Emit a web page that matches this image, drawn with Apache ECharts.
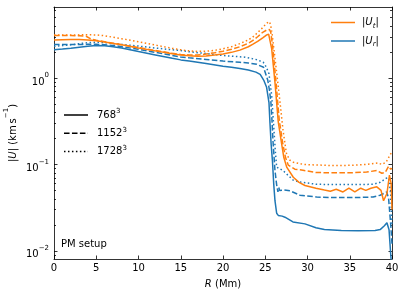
<!DOCTYPE html>
<html><head><meta charset="utf-8">
<script src="https://cdn.jsdelivr.net/npm/echarts@6/dist/echarts.min.js"></script>
<style>html,body{margin:0;padding:0;background:#fff}#c{width:407px;height:295px}</style>
</head><body><div id="c"></div>
<script>
// ---- data ----
const xTicks = [0, 5, 10, 15, 20, 25, 30, 35, 40];
const yMajorTicks = [0.01, 0.1, 1];
const yMinorTicks = [0.009, 0.02, 0.03, 0.04, 0.05, 0.06, 0.07, 0.08, 0.09,
  0.2, 0.3, 0.4, 0.5, 0.6, 0.7, 0.8, 0.9, 2, 3, 4, 5, 6];
const resolutions = ['768', '1152', '1728'];

// |U_t| (orange)
const utSolid = [[0,2.76],[1,2.77],[2,2.78],[3,2.78],[4,2.75],[5,2.7],[6,2.61],[7,2.51],[8,2.42],[10,2.23],[12,2.06],[14,1.91],[15,1.85],[16,1.81],[17,1.79],[18,1.80],[19,1.84],[20,1.90],[21,1.98],[22,2.1],[23,2.3],[23.5,2.45],[24.1,2.65],[24.7,2.92],[25.1,3.12],[25.4,3.22],[25.55,3.1],[25.76,2.19],[26.15,0.89],[26.54,0.31],[26.94,0.173],[27.2,0.12],[27.54,0.093],[28.32,0.071],[29,0.062],[29.7,0.057],[31,0.053],[32,0.0505],[32.7,0.049],[33.4,0.0515],[34.2,0.048],[34.9,0.053],[35.6,0.048],[36.3,0.053],[36.9,0.05],[37.5,0.053],[38.2,0.055],[38.7,0.05],[39.0,0.038],[39.15,0.037],[39.4,0.046],[39.7,0.075],[39.9,0.06],[40,0.03]];
const utDashed = [[0,3.1],[1,3.1],[2,3.1],[3,3.08],[3.8,3.04],[4.3,2.86],[5,2.73],[6,2.63],[7,2.53],[8,2.43],[10,2.25],[12,2.08],[14,1.93],[15,1.87],[16,1.85],[17,1.85],[18,1.89],[19,1.96],[20,2.04],[21,2.15],[22,2.3],[23,2.52],[23.5,2.7],[24.1,3.0],[24.7,3.38],[25.2,3.6],[25.5,3.64],[25.65,3.4],[25.86,2.4],[26.25,0.95],[26.65,0.33],[27.05,0.18],[27.4,0.12],[27.73,0.098],[28.5,0.088],[29.47,0.0855],[31,0.0805],[33,0.08],[35,0.08],[37,0.0815],[38.2,0.085],[38.8,0.079],[39.2,0.081],[39.6,0.095],[39.85,0.088],[40,0.09]];
const utDotted = [[0,3.15],[2,3.15],[4,3.16],[5,3.15],[6,3.08],[7,2.96],[8,2.85],[10,2.62],[12,2.4],[14,2.2],[15,2.12],[16,2.06],[17,2.03],[18,2.04],[19,2.09],[20,2.18],[21,2.3],[22,2.5],[23,2.76],[23.5,2.96],[24.1,3.35],[24.7,3.83],[25.1,4.25],[25.45,4.5],[25.62,4.2],[25.8,3.3],[26.15,1.7],[26.45,0.95],[26.77,0.5],[27.1,0.25],[27.5,0.135],[27.9,0.112],[28.32,0.106],[29.5,0.1],[31,0.0985],[33,0.097],[35,0.0975],[37,0.1],[38.3,0.104],[38.8,0.1],[39.3,0.106],[39.7,0.125],[40,0.14]];

// |U_r| (blue)
const urSolid = [[0,2.12],[1,2.16],[2,2.21],[3,2.27],[4,2.33],[5,2.37],[6,2.36],[7,2.3],[8,2.22],[10,2.02],[12,1.85],[14,1.69],[15,1.62],[16,1.57],[18,1.47],[20,1.37],[21,1.33],[22,1.29],[23,1.24],[23.9,1.17],[24.4,1.10],[24.85,0.93],[25.16,0.78],[25.44,0.52],[25.56,0.30],[25.7,0.17],[25.85,0.11],[26.0,0.06],[26.15,0.038],[26.35,0.0272],[26.54,0.0257],[27.0,0.0252],[27.33,0.0245],[28.28,0.0216],[29.7,0.0205],[31,0.0185],[32,0.0176],[34,0.0172],[36,0.0171],[38,0.0172],[38.6,0.0176],[39.1,0.0195],[39.4,0.0211],[39.65,0.0175],[39.85,0.009],[40,0.006]];
const urDashed = [[0,2.44],[2,2.44],[4,2.45],[5,2.45],[6,2.43],[7,2.38],[8,2.3],[10,2.15],[12,1.98],[14,1.82],[15,1.75],[16,1.71],[18,1.64],[20,1.57],[22,1.52],[23,1.49],[24,1.44],[24.8,1.33],[25.3,0.94],[25.5,0.72],[25.67,0.52],[25.8,0.32],[25.91,0.19],[26.15,0.085],[26.35,0.058],[26.5,0.048],[26.6,0.054],[26.7,0.05],[27.2,0.0505],[27.93,0.0495],[29.11,0.044],[31.09,0.0419],[33,0.0414],[36,0.0414],[37.76,0.042],[38.6,0.044],[39.38,0.048],[39.6,0.04],[39.85,0.02],[40,0.012]];
const urDotted = [[0,2.33],[1,2.37],[2,2.42],[3,2.5],[4,2.56],[5,2.59],[6,2.57],[7,2.51],[8,2.45],[10,2.34],[12,2.22],[14,2.12],[15,2.08],[16,2.01],[18,1.92],[20,1.82],[22,1.76],[22.6,1.74],[24,1.63],[24.76,1.52],[25.1,1.35],[25.44,1.12],[25.76,0.63],[26.03,0.25],[26.2,0.14],[26.35,0.093],[27.1,0.085],[28.32,0.0655],[29.1,0.0625],[31.09,0.0588],[33,0.0586],[36,0.0586],[37.76,0.0588],[38.6,0.062],[39.3,0.069],[39.6,0.07],[39.85,0.045],[40,0.02]];

// ---- styling ----
const FONT = 'DejaVu Sans';
const ORANGE = '#ff7f0e', BLUE = '#1f77b4';
const LW = 1.5;
const DASH = [5.55, 2.4], DOT = [1.5, 2.475];
const Y_MIN = 0.00804, Y_MAX = 6.63;

const frameLine = {show: true, lineStyle: {color: '#000', width: 0.8}};
const supRich = {
  b: {fontSize: 10, fontFamily: FONT, color: '#000', lineHeight: 15, verticalAlign: 'bottom'},
  s: {fontSize: 7, fontFamily: FONT, color: '#000', lineHeight: 7, verticalAlign: 'top'}
};
function expFmt(v) {
  const e = Math.round(Math.log10(v));
  return '{b|10}{s|' + (e < 0 ? '\u2212' + (-e) : String(e)) + '}';
}
function yAxisDef(pos, ticks, len, labels) {
  return {
    type: 'log', logBase: 10, min: Y_MIN, max: Y_MAX, position: pos,
    axisLine: labels || pos === 'right' ? frameLine : {show: false},
    axisTick: {show: true, inside: true, length: len, customValues: ticks,
      lineStyle: {color: '#000', width: 0.8}},
    axisLabel: labels ? {show: true, customValues: ticks, formatter: expFmt, rich: supRich,
      margin: 5, padding: [3, 0, 0, 0]} : {show: false},
    splitLine: {show: false}, minorTick: {show: false},
    name: labels ? '{t||}{i|U}{t|| (km\u2009s}{s|\u22121}{t|)}' : '',
    nameLocation: 'middle', nameGap: 36, nameMoveOverlap: false,
    nameTextStyle: {rich: {
      t: {fontSize: 10, fontFamily: FONT, color: '#000', lineHeight: 15, verticalAlign: 'bottom'},
      i: {fontSize: 10, fontFamily: FONT, color: '#000', fontStyle: 'italic', lineHeight: 15, verticalAlign: 'bottom'},
      s: {fontSize: 7, fontFamily: FONT, color: '#000', lineHeight: 7, verticalAlign: 'top'}
    }}
  };
}
function lineSeries(name, data, color, type) {
  return {name, type: 'line', data, xAxisIndex: 0, yAxisIndex: 0, showSymbol: false, symbol: 'none',
    clip: true, animation: false, lineStyle: {color, width: LW, type}, itemStyle: {color}};
}

const legendRich = {
  n: {fontSize: 10, fontFamily: FONT, fill: '#000', lineHeight: 14, verticalAlign: 'middle'},
  i: {fontSize: 10, fontFamily: FONT, fill: '#000', fontStyle: 'italic', lineHeight: 14, verticalAlign: 'middle'},
  sb: {fontSize: 7, fontFamily: FONT, fill: '#000', fontStyle: 'italic', lineHeight: 7, verticalAlign: 'bottom'},
  sp: {fontSize: 7, fontFamily: FONT, fill: '#000', lineHeight: 7, verticalAlign: 'top'}
};
function legendLine(x, y, color, dash) {
  return {type: 'line', silent: true, shape: {x1: x, y1: y, x2: x + 24, y2: y},
    style: {stroke: color, lineWidth: LW, lineDash: dash || null}};
}
function legendText(x, y, text) {
  return {type: 'text', silent: true, x, y, style: {text, rich: legendRich, verticalAlign: 'middle', align: 'left'}};
}

const chart = echarts.init(document.getElementById('c'), null, {renderer: 'canvas'});
chart.setOption({
  animation: false,
  backgroundColor: '#fff',
  grid: {left: 54, right: 15, top: 7, bottom: 36, containLabel: false, outerBoundsMode: 'none'},
  xAxis: [
    {type: 'value', min: 0, max: 40, interval: 5, position: 'bottom',
      axisLine: frameLine,
      axisTick: {inside: true, length: 3.5, lineStyle: {color: '#000', width: 0.8}},
      axisLabel: {color: '#000', fontSize: 10, fontFamily: FONT, margin: 4},
      splitLine: {show: false},
      name: '{i|R} (Mm)', nameLocation: 'middle', nameGap: 20, nameMoveOverlap: false,
      nameTextStyle: {fontSize: 10, fontFamily: FONT, color: '#000', rich: {
        i: {fontSize: 10, fontFamily: FONT, color: '#000', fontStyle: 'italic'}}}},
    {type: 'value', min: 0, max: 40, interval: 5, position: 'top',
      axisLine: frameLine,
      axisTick: {inside: true, length: 3.5, lineStyle: {color: '#000', width: 0.8}},
      axisLabel: {show: false}, splitLine: {show: false}}
  ],
  yAxis: [
    yAxisDef('left', yMajorTicks, 3.5, true),
    yAxisDef('left', yMinorTicks, 2, false),
    yAxisDef('right', yMajorTicks, 3.5, false),
    Object.assign(yAxisDef('right', yMinorTicks, 2, false), {axisLine: {show: false}})
  ],
  series: [
    lineSeries('Ur ' + resolutions[0], urSolid, BLUE, 'solid'),
    lineSeries('Ur ' + resolutions[1], urDashed, BLUE, DASH),
    lineSeries('Ur ' + resolutions[2], urDotted, BLUE, DOT),
    lineSeries('Ut ' + resolutions[0], utSolid, ORANGE, 'solid'),
    lineSeries('Ut ' + resolutions[1], utDashed, ORANGE, DASH),
    lineSeries('Ut ' + resolutions[2], utDotted, ORANGE, DOT)
  ],
  graphic: [
    legendLine(331, 22.5, ORANGE),
    legendText(362, 22.5, '{n||}{i|U}{sb|t}{n||}'),
    legendLine(331, 41, BLUE),
    legendText(362, 41, '{n||}{i|U}{sb|r}{n||}'),
    legendLine(64, 115, '#000'),
    legendText(97, 115, '{n|' + resolutions[0] + '}{sp|3}'),
    legendLine(64, 133.3, '#000', DASH),
    legendText(97, 133.3, '{n|' + resolutions[1] + '}{sp|3}'),
    legendLine(64, 151.5, '#000', DOT),
    legendText(97, 151.5, '{n|' + resolutions[2] + '}{sp|3}'),
    {type: 'text', silent: true, x: 61, y: 244,
      style: {text: 'PM setup', font: '10px "DejaVu Sans"', fill: '#000', verticalAlign: 'middle', align: 'left'}}
  ]
});
</script></body></html>
